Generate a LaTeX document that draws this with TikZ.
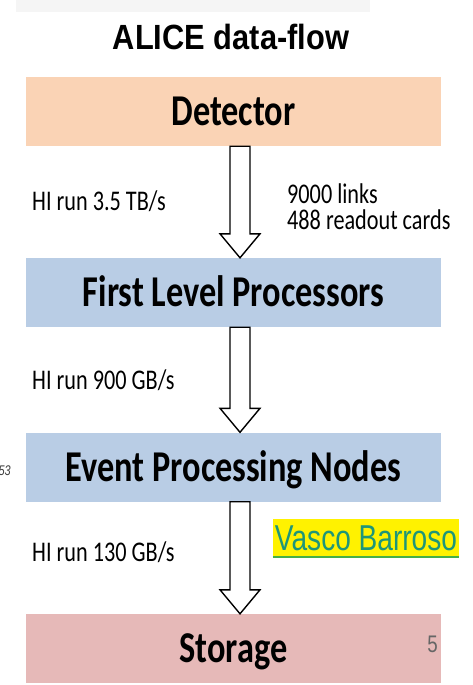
\documentclass[tikz,border=0pt]{standalone}
\usepackage{fontspec}
\usepackage{tikz}
\usetikzlibrary{calc}
\setmainfont{Carlito}
\newfontfamily\calfont{Carlito}[FakeStretch=0.78]
\newfontfamily\arialfont{Liberation Sans}[FakeStretch=0.78]
\newfontfamily\titlefont{Liberation Sans}[FakeStretch=0.88]

\definecolor{detcol}{RGB}{250,211,181}
\definecolor{proccol}{RGB}{185,205,229}
\definecolor{storcol}{RGB}{230,185,184}
\definecolor{linkcol}{RGB}{30,150,120}
\definecolor{ulinecol}{RGB}{70,175,70}

\tikzset{
  stage/.style={minimum width=415pt, minimum height=69pt, inner sep=0pt,
    text height=28pt, text depth=0pt,
    font=\calfont\bfseries\fontsize{44}{44}\selectfont},
  ratelabel/.style={anchor=base west, inner sep=0pt,
    font=\calfont\fontsize{28.5}{28.5}\selectfont},
  arrowline/.style={draw=black, line width=1.4pt, fill=white, line join=miter}
}

% hollow block arrow from the bottom of one stage to the top of the next
\newcommand{\flowarrow}[2]{%
  \draw[arrowline] let \p1=(#1.south), \p2=(#2.north) in
    (\x1-3.5pt,\y1) -- (\x1-3.5pt,\y2+24pt) -- (\x1-13.5pt,\y2+24pt)
    -- (\x1+6.5pt,\y2) -- (\x1+26.5pt,\y2+24pt) -- (\x1+16.5pt,\y2+24pt)
    -- (\x1+16.5pt,\y1) -- cycle;}

\begin{document}
\begin{tikzpicture}[x=1pt,y=-1pt]
  \useasboundingbox (0,0) rectangle (472,685);
  \fill[white] (0,0) rectangle (472,685);
  \fill[black!4] (16,0) rectangle (370,12);
  % Nodes
  \node[inner sep=0pt, text height=25pt, text depth=0pt,
    font=\titlefont\bfseries\fontsize{35}{35}\selectfont] (title) at (231,37.5) {ALICE data-flow};
  \node[stage, fill=detcol] (det) at (233.5,111.5) {Detector};
  \node[stage, fill=proccol] (flp) at (233.5,292.5) {First Level Processors};
  \node[stage, fill=proccol] (epn) at (233.5,467) {Event Processing Nodes};
  \node[stage, fill=storcol] (stor) at (233.5,648.5) {Storage};
  \node[ratelabel] (rate1) at (32,210) {HI run 3.5 TB/s};
  \node[ratelabel] (links) at (287,203) {9000 links};
  \node[ratelabel] (cards) at (287,229) {488 readout cards};
  \node[ratelabel] (rate2) at (32,389) {HI run 900 GB/s};
  \node[ratelabel] (rate3) at (32,561) {HI run 130 GB/s};
  \node[fill=yellow, inner sep=0pt, minimum width=186pt, minimum height=38pt,
    text=linkcol, font=\arialfont\fontsize{36}{36}\selectfont] (vasco) at (366,538) {Vasco Barroso};
  \node[anchor=base east, inner sep=0pt, text=black!60,
    font=\arialfont\fontsize{24}{24}\selectfont] (page) at (438,652) {5};
  \node[anchor=base east, inner sep=0pt, text=black!75,
    font=\arialfont\itshape\fontsize{14}{14}\selectfont] (side) at (11,475) {53};
  % Edges
  \flowarrow{det}{flp}
  \flowarrow{flp}{epn}
  \flowarrow{epn}{stor}
  \draw[ulinecol, line width=2pt] (vasco.south west) -- (vasco.south east);
\end{tikzpicture}
\end{document}
